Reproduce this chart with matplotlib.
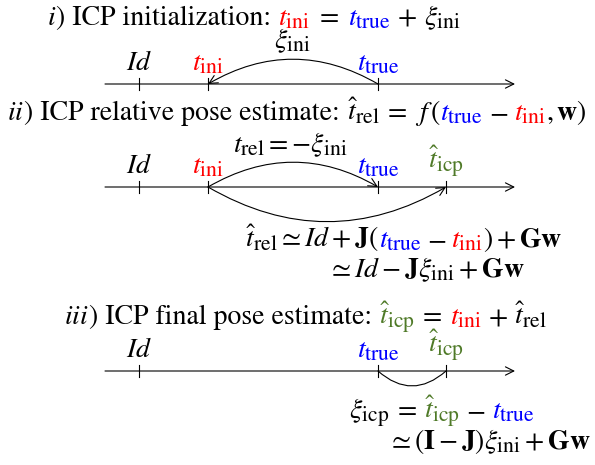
import matplotlib
matplotlib.use('Agg')
import matplotlib.pyplot as plt
import matplotlib._mathtext as mt
from matplotlib.patches import FancyArrowPatch

plt.rcParams['font.family'] = 'STIXGeneral'
plt.rcParams['mathtext.fontset'] = 'stix'
mt.SHRINK_FACTOR = 0.78   # latex-like bigger subscripts

RED = '#ff0000'
BLUE = '#0000ff'
GREEN = '#4f7a28'
K = 'black'

# positions of the poses on each line (pixels)
pose_names = ['Id', 'ini', 'true', 'icp']
pose_x = [139, 208, 378, 446]
line_y = [84, 187, 371]

lbl = {
    'Id': (r'$Id$', K),
    'ini': (r'$t_{\mathrm{ini}}$', RED),
    'true': (r'$t_{\mathrm{true}}$', BLUE),
    'icp': (r'$\hat{t}_{\mathrm{icp}}$', GREEN),
}
poses_per_line = [['Id', 'ini', 'true'], ['Id', 'ini', 'true', 'icp'], ['Id', 'true', 'icp']]

FS = 20
G = 8  # gap around relations / operators in the coloured formulas


def op(sym, gap=G):
    return [gap, (sym, K), gap]


fig = plt.figure(figsize=(5.95, 4.65), dpi=100)
ax = fig.add_axes([0, 0, 1, 1])
ax.set_xlim(0, 595)
ax.set_ylim(465, 0)
ax.axis('off')
renderer = fig.canvas.get_renderer()


def rich(x, y, parts, size=FS):
    # draw a sequence of coloured pieces on one baseline, starting at x
    cur = x
    for p in parts:
        if not isinstance(p, tuple):
            cur += p
            continue
        s, c = p
        t = ax.text(cur, y, s, color=c, fontsize=size, va='baseline', ha='left')
        cur += t.get_window_extent(renderer).width
    return cur


def arc(x0, x1, y, rad, head=True):
    style = '->,head_length=0.5,head_width=0.25' if head else '-'
    a = FancyArrowPatch((x0, y), (x1, y), connectionstyle='arc3,rad=%f' % rad,
                        arrowstyle=style, mutation_scale=12, lw=0.8, color=K,
                        shrinkA=0, shrinkB=0)
    ax.add_patch(a)


x_of = dict(zip(pose_names, pose_x))

for ly, names in zip(line_y, poses_per_line):
    ax.add_patch(FancyArrowPatch((105, ly), (515, ly), arrowstyle='->,head_length=0.5,head_width=0.25',
                                 mutation_scale=12, lw=0.8, color=K, shrinkA=0, shrinkB=0))
    for n in names:
        px = x_of[n]
        ax.plot([px, px], [ly - 6, ly + 6], color=K, lw=0.8)
        s, c = lbl[n]
        ax.text(px, ly - 8, s, color=c, fontsize=FS, ha='center', va='bottom')

# i) initialization
rich(47, 25, [(r'$i$', K), (') ICP initialization: ', K), (lbl['ini'][0], RED), *op('=', 9),
              (lbl['true'][0], BLUE), *op('$+$', 7), (r'$\xi_{\mathrm{ini}}$', K)])
ax.text(292, 55, r'$\xi_{\mathrm{ini}}$', fontsize=FS, ha='center', va='bottom')
arc(x_of['true'], x_of['ini'], line_y[0], 0.29)

# ii) relative pose
rich(7, 120, [(r'$ii$', K), (') ICP relative pose estimate: ', K), (r'$\hat{t}_{\mathrm{rel}}$', K),
              *op('='), (r'$f\,($', K), (lbl['true'][0], BLUE), *op('$-$', 6), (lbl['ini'][0], RED),
              (r'$,\mathbf{w})$', K)])
ax.text(290, 152, r'$t_{\mathrm{rel}} = -\xi_{\mathrm{ini}}$', fontsize=FS, ha='center', va='baseline')
arc(x_of['ini'], x_of['true'], line_y[1], -0.29)
arc(x_of['ini'], x_of['icp'], line_y[1], 0.29)
rich(245, 247, [(r'$\hat{t}_{\mathrm{rel}} \simeq Id + \mathbf{J}($', K), (lbl['true'][0], BLUE),
                *op('$-$', 5), (lbl['ini'][0], RED), (r'$) + \mathbf{Gw}$', K)])
rich(327, 277, [(r'$\simeq Id - \mathbf{J}\xi_{\mathrm{ini}} + \mathbf{Gw}$', K)])

# iii) final pose
rich(64, 324, [(r'$iii$', K), (') ICP final pose estimate: ', K), (lbl['icp'][0], GREEN), *op('='),
               (lbl['ini'][0], RED), *op('$+$', 6), (r'$\hat{t}_{\mathrm{rel}}$', K)])
arc(x_of['true'], x_of['icp'], line_y[2], 0.44, head=False)
rich(349, 418, [(r'$\xi_{\mathrm{icp}}$', K), *op('='), (lbl['icp'][0], GREEN), *op('$-$', 6),
                (lbl['true'][0], BLUE)])
rich(387, 449, [(r'$\simeq (\mathbf{I} - \mathbf{J})\xi_{\mathrm{ini}} + \mathbf{Gw}$', K)])

fig.savefig('out.png', dpi=100)
